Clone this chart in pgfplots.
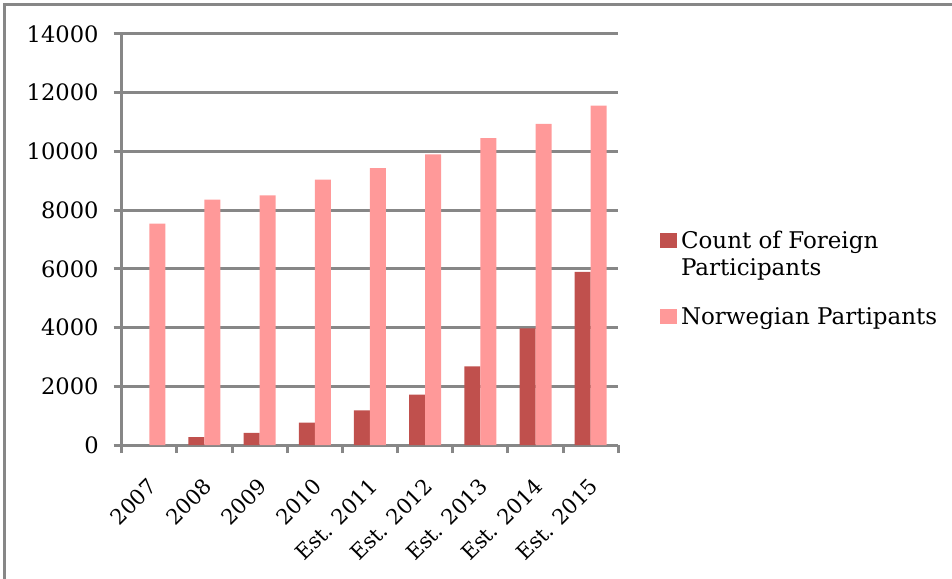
\documentclass[border=0pt]{standalone}
\usepackage{pgfplots}
\pgfplotsset{compat=1.18}
\usepackage{fontspec}
\setmainfont{DejaVu Serif}

\definecolor{foreign}{HTML}{C0504D}
\definecolor{norw}{HTML}{FF9999}
\definecolor{axgray}{HTML}{878787}

\begin{document}
\begin{tikzpicture}
\useasboundingbox (0,0) rectangle (476pt,289pt);
% outer frame, only top and left visible
\draw[axgray, line width=1.5pt] (2.4pt,-2pt) -- (2.4pt,286.6pt) -- (478pt,286.6pt);
\begin{axis}[
    at={(60.85pt,66.5pt)}, anchor=south west,
    scale only axis, width=248.3pt, height=205.5pt,
    ybar=0pt, bar width=8pt,
    xmin=-0.5, xmax=8.5,
    ymin=0, ymax=14000,
    axis x line*=bottom, axis y line*=left,
    axis line style={axgray, line width=1.5pt, -},
    tick style={axgray, line width=1.5pt},
    tick align=outside,
    major tick length=4pt,
    xtick={-0.5,0.5,...,8.5},
    xticklabels={},
    extra x ticks={0,1,2,3,4,5,6,7,8},
    extra x tick labels={2007,2008,2009,2010,Est. 2011,Est. 2012,Est. 2013,Est. 2014,Est. 2015},
    extra x tick style={major tick length=0pt},
    xticklabel style={rotate=45, anchor=north east, inner sep=1pt, yshift=-9.2pt, xshift=-10.9pt,
        font=\fontsize{10.6}{12}\selectfont},
    ytick={0,2000,...,14000},
    yticklabel style={font=\fontsize{11.3}{13}\selectfont, xshift=-4pt},
    /pgf/number format/1000 sep={},
    /pgf/number format/assume math mode=true,
    scaled y ticks=false,
    ymajorgrids=true,
    grid style={axgray, line width=1.5pt},
    legend style={at={(1.084,0.532)}, anchor=north west, draw=none, fill=none,
        font=\fontsize{11.5}{13.5}\selectfont, cells={anchor=base west, align=left},
        row sep=10.5pt, inner sep=0pt},
]

\addplot[fill=foreign, draw=none,
    legend image code/.code={\fill[foreign] (0pt,13.5pt) rectangle (8.3pt,21.3pt);}]
    coordinates {
    (1,270)(2,410)(3,765)(4,1180)(5,1720)(6,2680)(7,3970)(8,5900)
    };
\addlegendentry{Count of Foreign\\Participants}

\addplot[fill=norw, draw=none,
    legend image code/.code={\fill[norw] (0pt,0pt) rectangle (8.3pt,7.8pt);}]
    coordinates {
    (0,7540)(1,8360)(2,8500)(3,9040)(4,9430)(5,9900)(6,10450)(7,10940)(8,11560)
    };
\addlegendentry{Norwegian Partipants}

\end{axis}
\end{tikzpicture}
\end{document}
